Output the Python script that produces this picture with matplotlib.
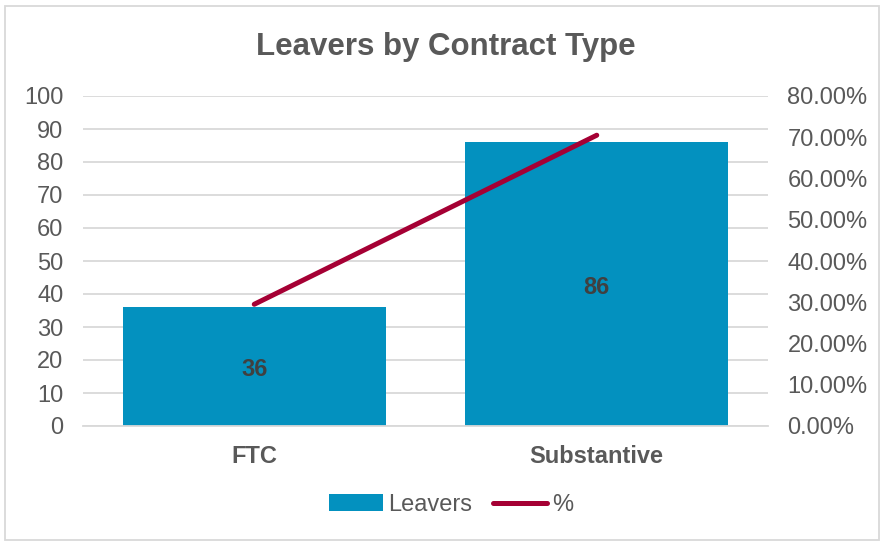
import matplotlib.pyplot as plt
import numpy as np
from matplotlib.patches import Rectangle
from matplotlib.ticker import FuncFormatter

plt.rcParams['font.family'] = ['Liberation Sans', 'DejaVu Sans']

categories = ['FTC', 'Substantive']
leavers = [36, 86]
pct = [l / sum(leavers) for l in leavers]

bar_color = '#0391BF'
line_color = '#A50034'
text_color = '#595959'

fig = plt.figure(figsize=(8.81, 5.41), dpi=100)
ax = fig.add_axes([83 / 881, 1 - 426 / 541, 685 / 881, 330 / 541])
ax2 = ax.twinx()

x = np.arange(len(categories))
bars = ax.bar(x, leavers, width=0.768, color=bar_color, label='Leavers', zorder=2)
ax.set_xlim(-0.5, 1.5)
ax.set_ylim(0, 100)
ax.set_yticks(range(0, 101, 10))
ax.yaxis.grid(True, color='#D9D9D9', linewidth=1.3, zorder=0)
ax.set_axisbelow(True)

# value labels in the middle of each bar
for b, v in zip(bars, leavers):
    ax.text(b.get_x() + b.get_width() / 2, v / 2 - 1, str(v), ha='center', va='center',
            fontsize=17, fontweight='bold', color='#404040')

line, = ax2.plot(x, pct, color=line_color, linewidth=3.6, solid_capstyle='round', label='%')
ax2.set_ylim(0, 0.8)
ax2.set_yticks(np.arange(0, 0.81, 0.1))
ax2.yaxis.set_major_formatter(FuncFormatter(lambda v, p: f'{v * 100:.2f}%'))

ax.set_xticks(x)
ax.set_xticklabels(categories, fontsize=16.5, fontweight='bold', color=text_color)
for a in (ax, ax2):
    for s in a.spines.values():
        s.set_visible(False)
    a.tick_params(length=0, labelsize=17, labelcolor=text_color)
ax.tick_params(axis='y', pad=14)
ax.tick_params(axis='x', pad=14)
ax2.tick_params(axis='y', pad=14)
ax.spines['bottom'].set_visible(True)
ax.spines['bottom'].set_color('#D9D9D9')
ax.spines['bottom'].set_linewidth(1.3)

fig.text(446 / 881, 1 - 47 / 541, 'Leavers by Contract Type', ha='center', va='center',
         fontsize=22.5, fontweight='bold', color=text_color)

fig.legend(handles=[bars, line], labels=['Leavers', '%'], loc='center',
           bbox_to_anchor=(451 / 881, 1 - 505 / 541), ncol=2, frameon=False,
           fontsize=17, labelcolor=text_color, handlelength=2.3, handleheight=0.75,
           handletextpad=0.2, columnspacing=0.9)

fig.patches.append(Rectangle((5 / 881, 1 / 541), 874 / 881, 534 / 541, transform=fig.transFigure,
                             fill=False, edgecolor='#D9D9D9', linewidth=1.3))

fig.savefig('out.png', dpi=100)
